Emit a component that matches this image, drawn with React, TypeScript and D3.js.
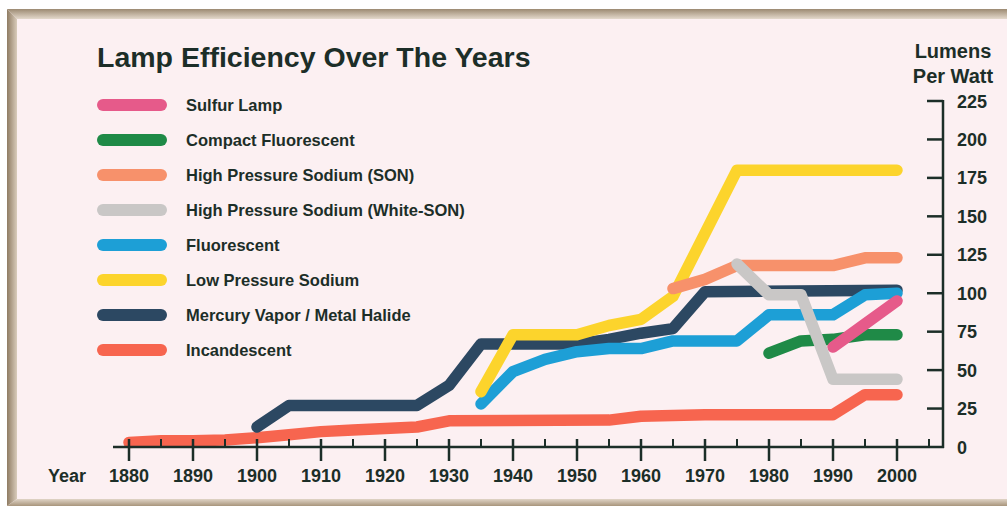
import React from "react";
import * as d3 from "d3";

// values (lumens per watt by year)
const incandescent = [[1880,3],[1885,4],[1890,4],[1895,4.5],[1900,6],[1905,8],[1910,10],[1915,11],[1920,12],[1925,13],[1930,17],[1955,17.5],[1960,20],[1965,20.5],[1970,21],[1990,21],[1995,34],[2000,34]];
const mercury = [[1900,13],[1905,27],[1925,27],[1930,40],[1935,67],[1950,67],[1955,70],[1960,74],[1965,77],[1970,101],[2000,102]];
const fluorescent = [[1935,28],[1940,49],[1945,57],[1950,62],[1955,64],[1960,64],[1965,69],[1975,69],[1980,86],[1990,86],[1995,99],[2000,100]];
const lowSodium = [[1935,36],[1940,73],[1950,73],[1955,79],[1960,83],[1965,98],[1975,180],[2000,180]];
const highSodium = [[1965,103],[1970,109],[1975,118],[1990,118],[1995,123],[2000,123]];
const compactFl = [[1980,61],[1985,69],[1990,70],[1995,73],[2000,73]];
const sulfur = [[1990,65],[1995,80],[2000,95]];
const whiteSon = [[1975,119],[1980,99],[1985,99],[1990,44],[2000,44]];

const legendNames = ["Sulfur Lamp","Compact Fluorescent","High Pressure Sodium (SON)","High Pressure Sodium (White-SON)","Fluorescent","Low Pressure Sodium","Mercury Vapor / Metal Halide","Incandescent"];
const legendColors = ["#e65a8a","#1f8a47","#f7916b","#c9c7c6","#1d9fd6","#fcd42c","#2c4862","#f7654f"];

const yearTicks = d3.range(1880, 2001, 10);
const minorTicks = d3.range(1885, 2006, 10);
const valueTicks = d3.range(0, 226, 25);

// drawing order, bottom to top
const series = [
  {data: incandescent, color: "#f7654f"},
  {data: mercury, color: "#2c4862"},
  {data: fluorescent, color: "#1d9fd6"},
  {data: lowSodium, color: "#fcd42c"},
  {data: highSodium, color: "#f7916b"},
  {data: compactFl, color: "#1f8a47"},
  {data: sulfur, color: "#e65a8a"},
  {data: whiteSon, color: "#c9c7c6"},
];

const ink = "#1c2e28";
const font = "'Liberation Sans', Arial, sans-serif";

export default function App() {
  const x = d3.scaleLinear().domain([1880, 2000]).range([129, 897]);
  const y = d3.scaleLinear().domain([0, 225]).range([447, 101]);
  const line = d3.line<number[]>().x(d => x(d[0])).y(d => y(d[1]));
  const axisY = y(0);
  const axisX = 943;

  return (
    <svg width={1007} height={506} style={{position: "absolute", left: 0, top: 0, display: "block"}}>
      <defs>
        <linearGradient id="topBand" x1="0" y1="0" x2="0" y2="1">
          <stop offset="0" stopColor="#9c8a72" />
          <stop offset="1" stopColor="#e4d9cc" />
        </linearGradient>
        <linearGradient id="leftBand" x1="0" y1="0" x2="1" y2="0">
          <stop offset="0" stopColor="#8f7c63" />
          <stop offset="1" stopColor="#d9ccbb" />
        </linearGradient>
        <linearGradient id="bottomBand" x1="0" y1="0" x2="0" y2="1">
          <stop offset="0" stopColor="#e0d4c6" />
          <stop offset="1" stopColor="#a8957c" />
        </linearGradient>
      </defs>
      <rect x={0} y={0} width={1007} height={506} fill="#ffffff" />
      <rect x={7} y={9} width={1000} height={497} fill="#fcf0f2" />
      <polygon points="7,9 1007,9 1007,19 17,19" fill="url(#topBand)" />
      <polygon points="7,9 17,19 17,499 7,506" fill="url(#leftBand)" />
      <polygon points="7,506 17,499 1007,499 1007,506" fill="url(#bottomBand)" />

      <text x={97} y={67} fontFamily={font} fontWeight="bold" fontSize={28.5} fill={ink}>
        Lamp Efficiency Over The Years
      </text>

      {legendNames.map((name, i) => {
        const cy = 105 + i * 35;
        return (
          <g key={name}>
            <line x1={103} x2={161} y1={cy} y2={cy} stroke={legendColors[i]} strokeWidth={12} strokeLinecap="round" />
            <text x={186} y={cy + 6} fontFamily={font} fontWeight="bold" fontSize={16.5} fill={ink}>{name}</text>
          </g>
        );
      })}

      {series.map((s, i) => (
        <path key={i} d={line(s.data) || ""} fill="none" stroke={s.color} strokeWidth={11.5}
          strokeLinecap="round" strokeLinejoin="round" />
      ))}

      {/* x axis */}
      <line x1={113} x2={axisX + 1} y1={axisY} y2={axisY} stroke={ink} strokeWidth={2.5} />
      {minorTicks.map(t => (
        <line key={"m" + t} x1={x(t)} x2={x(t)} y1={axisY - 8} y2={axisY} stroke={ink} strokeWidth={2} />
      ))}
      {yearTicks.map(t => (
        <g key={t}>
          <line x1={x(t)} x2={x(t)} y1={axisY - 8} y2={axisY + 14} stroke={ink} strokeWidth={2.5} />
          <text x={x(t)} y={482} textAnchor="middle" fontFamily={font} fontWeight="bold" fontSize={18} fill={ink}>{t}</text>
        </g>
      ))}
      <text x={48} y={482} fontFamily={font} fontWeight="bold" fontSize={18} fill={ink}>Year</text>

      {/* y axis on the right */}
      <line x1={axisX} x2={axisX} y1={y(225) - 1} y2={axisY + 1} stroke={ink} strokeWidth={2.5} />
      {valueTicks.map(v => (
        <g key={v}>
          {v > 0 && <line x1={axisX - 16} x2={axisX} y1={y(v)} y2={y(v)} stroke={ink} strokeWidth={2.5} />}
          <text x={957} y={y(v) + 6.5} fontFamily={font} fontWeight="bold" fontSize={18} fill={ink}>{v}</text>
        </g>
      ))}
      <text x={953} y={58} textAnchor="middle" fontFamily={font} fontWeight="bold" fontSize={20} fill={ink}>Lumens</text>
      <text x={953} y={83} textAnchor="middle" fontFamily={font} fontWeight="bold" fontSize={20} fill={ink}>Per Watt</text>
    </svg>
  );
}
